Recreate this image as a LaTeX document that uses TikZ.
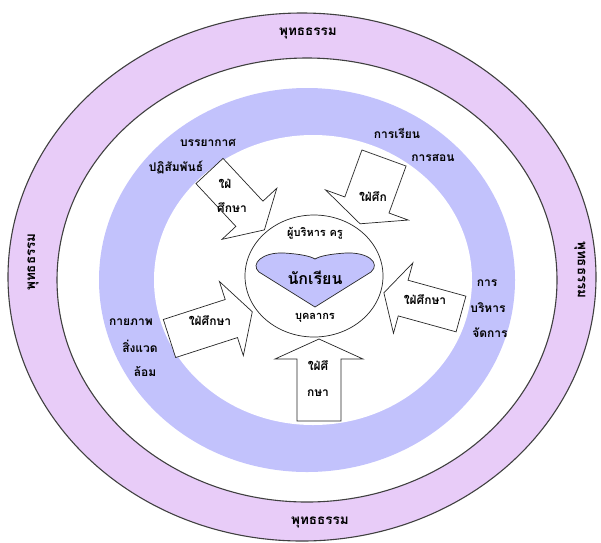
\documentclass[tikz,border=0pt]{standalone}
\usepackage{fontspec}
\setmainfont[Script=Thai]{Loma}
\definecolor{lavband}{RGB}{232,204,248}
\definecolor{blueband}{RGB}{194,194,252}
\newcommand{\blkarrow}[7]{%
  \draw[arrowshape, shift={(#1,#2)}, rotate=#3]
    (0,#6) -- (#4,#6) -- (#4,#7) -- ({#4+#5},0) -- (#4,-#7) -- (#4,-#6) -- (0,-#6) -- cycle;}
\tikzset{
  ringline/.style={draw=black!75, line width=1.1pt},
  arrowshape/.style={draw=black!85, fill=white, line width=0.7pt, line join=miter},
  lbl/.style={font=\fontsize{12}{14}\selectfont\bfseries, inner sep=1pt},
  ctr/.style={font=\fontsize{11}{13}\selectfont\bfseries, inner sep=1pt},
  band/.style={font=\fontsize{13.5}{15}\selectfont\bfseries, inner sep=1pt},
}
\begin{document}
\begin{tikzpicture}[x=1pt,y=-1pt]
\useasboundingbox (0,0) rectangle (601,542);
% rings
\fill[lavband] (302,277) ellipse [x radius=294, y radius=264];
\draw[ringline] (302,277) ellipse [x radius=294, y radius=264];
\fill[white] (307,280) ellipse [x radius=250, y radius=222];
\draw[ringline] (307,280) ellipse [x radius=250, y radius=222];
\fill[blueband] (307,280) ellipse [x radius=208, y radius=192];
\fill[white] (313,280) ellipse [x radius=159, y radius=145];
% arrows
\blkarrow{209.5}{171}{-47}{58.5}{22}{18.5}{37.5}
\blkarrow{384}{158}{-110}{50}{20}{23.5}{44}
\blkarrow{461}{314}{164.6}{60}{20}{18.5}{36.5}
\blkarrow{169.5}{338.5}{17.9}{65}{22}{20}{39}
\blkarrow{319}{421}{90}{62}{20}{22}{44}
% centre circle and heart
\draw[fill=white, draw=black!85, line width=0.7pt] (314,276) ellipse [x radius=69, y radius=61];
\draw[fill=blueband, draw=black!85, line width=0.7pt]
  (315,307) -- (259,272) .. controls (250,264) and (262,252) .. (284,253)
  .. controls (300,254) and (310,256) .. (315,259)
  .. controls (320,256) and (330,254) .. (346,253)
  .. controls (368,252) and (381,263) .. (371,272) -- cycle;
% band texts
\node[band] (bt) at (308,33) {พุทธธรรม};
\node[band] (bb) at (320,522) {พุทธธรรม};
\node[band, rotate=90] (bl) at (33,262) {พุทธธรรม};
\node[band, rotate=-90] (br) at (580,270) {พุทธธรรม};
% labels in blue band
\node[lbl] (l1a) at (208,143) {บรรยากาศ};
\node[lbl] (l1b) at (176,167) {ปฏิสัมพันธ์};
\node[lbl] (l2a) at (397,133) {การเรียน};
\node[lbl] (l2b) at (433,158) {การสอน};
\node[lbl] (l3a) at (487,283) {การ};
\node[lbl] (l3b) at (488,308) {บริหาร};
\node[lbl] (l3c) at (490,333) {จัดการ};
\node[lbl] (l4a) at (131,322) {กายภาพ};
\node[lbl] (l4b) at (140,346) {สิ่งแวด};
\node[lbl] (l4c) at (145,372) {ล้อม};
% arrow texts
\node[lbl] (a1a) at (225,184) {ใฝ่};
\node[lbl] (a1b) at (232,208) {ศึกษา};
\node[lbl] (a2) at (373,197) {ใฝ่ศึก};
\node[lbl] (a3) at (425,300) {ใฝ่ศึกษา};
\node[lbl] (a4) at (210,321) {ใฝ่ศึกษา};
\node[lbl] (a5a) at (318,366) {ใฝ่ศึ};
\node[lbl] (a5b) at (318,393) {กษา};
% centre texts
\node[ctr] (top) at (315,233) {ผู้บริหาร ครู};
\node[ctr, font=\fontsize{16}{18}\selectfont\bfseries] (stu) at (315,278) {นักเรียน};
\node[ctr] (bot) at (315,318) {บุคลากร};
\end{tikzpicture}
\end{document}
